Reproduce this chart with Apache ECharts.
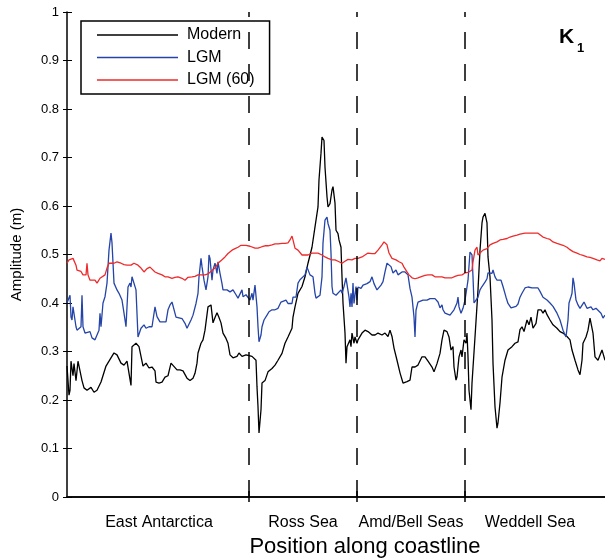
<!DOCTYPE html>
<html>
<head>
<meta charset="utf-8">
<script src="https://cdn.jsdelivr.net/npm/echarts@6/dist/echarts.min.js"></script>
<style>html,body{margin:0;padding:0;background:#fff;}#c{width:605px;height:558px;}</style>
</head>
<body>
<div id="c"></div>
<script>
// Position along coastline (arbitrary units, 0..538) and amplitude (m)
const seriesNames = ['Modern', 'LGM', 'LGM (60)'];
const regionNames = ['East Antarctica', 'Ross Sea', 'Amd/Bell Seas', 'Weddell Sea'];
const regionLabelPos = [92, 236, 344, 463];
const regionBounds = [182, 290, 398];
const xMax = 538;

const modern = [[0,.27],[2,.21],[3,.22],[4,.28],[6,.25],[7,.275],[9,.24],[11,.28],[13,.26],[15,.24],[17,.225],[20,.22],[24,.226],[27,.216],[30,.22],[34,.237],[35,.24],[39,.27],[42,.28],[47,.297],[50,.293],[54,.276],[57,.272],[60,.28],[62,.276],[64,.23],[65,.31],[69,.317],[72,.31],[74,.31],[76,.27],[79,.276],[82,.266],[85,.268],[88,.26],[89,.237],[92,.235],[95,.237],[98,.247],[101,.25],[104,.276],[106,.28],[110,.262],[113,.262],[116,.26],[120,.245],[123,.24],[126,.245],[128,.255],[130,.276],[131,.297],[134,.317],[136,.324],[138,.344],[141,.392],[144,.396],[145,.392],[146,.359],[148,.37],[150,.38],[152,.37],[154,.359],[156,.338],[159,.327],[161,.317],[163,.293],[166,.287],[170,.29],[172,.297],[175,.29],[179,.293],[181,.29],[185,.29],[187,.289],[189,.282],[190,.227],[191,.186],[192,.132],[194,.18],[195,.235],[198,.24],[201,.258],[205,.265],[208,.272],[211,.282],[215,.296],[218,.317],[221,.33],[225,.348],[226,.371],[228,.392],[231,.42],[235,.434],[238,.454],[241,.482],[245,.515],[248,.557],[251,.598],[252,.654],[254,.709],[255,.742],[257,.735],[258,.68],[260,.619],[261,.598],[263,.605],[265,.633],[266,.64],[268,.606],[269,.55],[271,.543],[272,.53],[274,.515],[275,.454],[276,.4],[278,.338],[279,.276],[280,.31],[281,.31],[283,.324],[284,.31],[285,.338],[287,.317],[288,.33],[290,.317],[291,.324],[295,.338],[298,.344],[301,.341],[305,.334],[308,.334],[311,.338],[315,.334],[318,.338],[321,.331],[323,.344],[325,.331],[327,.307],[330,.282],[333,.256],[336,.235],[340,.238],[343,.241],[345,.268],[348,.268],[351,.272],[355,.289],[358,.289],[361,.28],[365,.268],[367,.258],[370,.275],[371,.278],[373,.296],[375,.324],[377,.344],[380,.341],[382,.33],[384,.303],[386,.31],[387,.268],[389,.241],[390,.248],[392,.289],[394,.303],[395,.289],[397,.324],[399,.317],[400,.338],[401,.289],[402,.22],[404,.18],[405,.235],[408,.33],[411,.427],[413,.509],[415,.565],[416,.577],[418,.585],[420,.565],[421,.495],[423,.454],[425,.365],[426,.276],[428,.186],[430,.142],[431,.153],[433,.194],[435,.247],[438,.282],[441,.303],[445,.31],[448,.317],[451,.32],[453,.345],[455,.351],[457,.341],[460,.365],[462,.355],[464,.371],[466,.348],[469,.358],[471,.386],[474,.386],[476,.379],[478,.386],[480,.376],[483,.365],[486,.355],[490,.348],[493,.341],[496,.338],[500,.331],[503,.324],[505,.303],[508,.282],[511,.262],[513,.252],[515,.282],[516,.317],[519,.33],[521,.344],[523,.369],[525,.372],[526,.338],[528,.289],[531,.282],[533,.286],[535,.303],[536,.296],[538,.282]];

const lgm = [[0,.40],[3,.416],[4,.371],[5,.365],[6,.392],[8,.395],[9,.351],[10,.344],[12,.348],[14,.351],[15,.416],[16,.351],[18,.338],[20,.334],[23,.341],[25,.328],[28,.324],[30,.334],[32,.344],[33,.379],[34,.351],[36,.4],[38,.413],[40,.441],[42,.509],[44,.544],[45,.524],[47,.441],[50,.427],[52,.42],[55,.406],[57,.379],[59,.351],[61,.433],[63,.441],[64,.433],[65,.454],[67,.458],[69,.427],[71,.33],[74,.348],[77,.355],[79,.348],[82,.351],[85,.351],[88,.392],[90,.372],[93,.361],[96,.361],[99,.361],[101,.386],[103,.396],[105,.402],[107,.402],[109,.371],[111,.371],[115,.368],[118,.358],[120,.348],[122,.348],[124,.365],[126,.375],[129,.399],[131,.42],[132,.454],[134,.492],[135,.475],[137,.447],[139,.427],[141,.454],[142,.499],[143,.492],[145,.447],[146,.468],[148,.482],[150,.461],[151,.485],[153,.461],[155,.44],[156,.427],[160,.427],[163,.423],[166,.427],[169,.417],[171,.41],[173,.413],[175,.427],[176,.413],[179,.417],[181,.417],[183,.406],[185,.42],[186,.406],[188,.437],[189,.441],[190,.392],[191,.351],[192,.32],[194,.334],[195,.351],[197,.365],[200,.375],[202,.382],[205,.386],[208,.386],[211,.389],[214,.402],[216,.402],[219,.406],[221,.399],[223,.402],[225,.399],[226,.412],[229,.412],[231,.441],[233,.448],[235,.452],[238,.458],[240,.474],[241,.474],[243,.458],[245,.458],[246,.454],[248,.42],[249,.41],[251,.413],[253,.416],[255,.454],[256,.524],[258,.571],[260,.577],[261,.564],[263,.55],[264,.503],[265,.434],[266,.42],[269,.416],[271,.42],[274,.427],[275,.42],[277,.434],[279,.452],[281,.455],[282,.412],[283,.392],[284,.42],[285,.392],[286,.441],[287,.399],[289,.434],[290,.406],[291,.433],[294,.43],[296,.437],[300,.44],[303,.444],[305,.454],[307,.44],[310,.427],[311,.423],[314,.437],[316,.444],[318,.464],[320,.482],[322,.478],[324,.475],[326,.462],[329,.468],[331,.458],[335,.464],[338,.464],[341,.458],[343,.43],[345,.412],[347,.371],[348,.33],[349,.385],[351,.402],[353,.406],[356,.406],[360,.406],[363,.409],[365,.412],[368,.409],[371,.402],[373,.39],[375,.396],[376,.386],[378,.379],[380,.375],[383,.375],[385,.372],[387,.386],[390,.4],[391,.412],[392,.392],[394,.379],[396,.389],[398,.406],[400,.433],[401,.447],[403,.505],[405,.499],[406,.454],[407,.4],[409,.406],[411,.412],[413,.427],[415,.434],[416,.434],[418,.443],[420,.45],[421,.462],[423,.464],[425,.461],[426,.468],[428,.454],[430,.447],[431,.451],[434,.447],[436,.434],[439,.412],[441,.399],[444,.39],[446,.386],[449,.393],[451,.398],[453,.412],[455,.42],[458,.431],[461,.433],[465,.431],[468,.431],[471,.431],[473,.424],[476,.412],[480,.406],[483,.4],[486,.393],[490,.379],[493,.365],[496,.344],[499,.33],[501,.365],[502,.4],[504,.413],[505,.42],[506,.452],[507,.441],[509,.406],[511,.396],[513,.389],[515,.392],[517,.402],[520,.389],[521,.386],[524,.392],[526,.386],[529,.389],[531,.386],[534,.379],[536,.369],[538,.375]];

const lgm60 = [[0,.482],[2,.489],[4,.486],[6,.492],[8,.496],[9,.478],[10,.468],[12,.465],[14,.465],[16,.458],[19,.458],[20,.482],[21,.458],[23,.447],[25,.451],[28,.447],[30,.441],[33,.451],[35,.454],[38,.458],[40,.472],[42,.482],[44,.485],[47,.482],[50,.485],[54,.482],[57,.479],[60,.478],[64,.478],[67,.482],[69,.485],[71,.478],[74,.472],[77,.464],[80,.471],[83,.474],[85,.474],[88,.464],[91,.461],[95,.458],[98,.454],[101,.454],[105,.451],[108,.453],[111,.454],[115,.451],[118,.447],[121,.453],[125,.454],[128,.455],[131,.458],[135,.458],[138,.458],[141,.46],[145,.467],[148,.472],[151,.482],[155,.489],[158,.495],[161,.502],[165,.509],[168,.512],[171,.515],[174,.519],[176,.515],[179,.519],[181,.516],[183,.517],[185,.518],[188,.513],[191,.513],[195,.516],[198,.518],[201,.518],[205,.52],[208,.522],[210,.524],[211,.522],[215,.523],[218,.523],[221,.524],[223,.53],[225,.538],[226,.53],[228,.513],[231,.509],[233,.506],[235,.499],[238,.499],[241,.499],[245,.503],[248,.503],[251,.503],[255,.499],[258,.495],[261,.492],[265,.489],[268,.489],[271,.486],[275,.482],[278,.486],[281,.49],[285,.489],[288,.492],[291,.492],[295,.495],[298,.499],[301,.503],[305,.502],[308,.502],[311,.509],[315,.52],[317,.526],[320,.52],[322,.503],[325,.492],[329,.489],[332,.485],[335,.482],[337,.474],[340,.464],[342,.458],[345,.452],[348,.45],[351,.452],[355,.455],[358,.457],[361,.458],[365,.458],[368,.454],[371,.454],[375,.454],[378,.452],[381,.452],[385,.452],[388,.455],[391,.457],[395,.458],[398,.462],[401,.463],[403,.465],[405,.468],[406,.485],[408,.509],[410,.515],[411,.499],[413,.502],[416,.509],[420,.512],[423,.52],[426,.523],[430,.526],[433,.53],[436,.531],[440,.533],[443,.536],[446,.538],[450,.54],[453,.542],[458,.544],[465,.544],[471,.544],[473,.542],[476,.536],[480,.533],[483,.531],[486,.526],[490,.523],[493,.521],[496,.519],[500,.515],[503,.51],[506,.506],[510,.503],[513,.5],[516,.498],[520,.495],[523,.494],[526,.492],[530,.489],[533,.487],[535,.492],[538,.49]];

const colors = ['#000000', '#2444a8', '#ee2a2a'];
const FONT = 'Liberation Sans';

const chart = echarts.init(document.getElementById('c'), null, {renderer: 'canvas'});
const mkSeries = (name, data, color, extra) => Object.assign({
  name, type: 'line', data, showSymbol: false, symbol: 'none',
  lineStyle: {color, width: 1.3}, itemStyle: {color},
  xAxisIndex: 0, yAxisIndex: 0, animation: false, z: 3
}, extra || {});

chart.setOption({
  animation: false,
  backgroundColor: '#fff',
  grid: {left: 67, top: 12, width: 538, height: 485, containLabel: false, outerBoundsMode: 'none'},
  xAxis: [{
    type: 'value', min: 0, max: xMax, position: 'bottom',
    name: 'Position along coastline', nameLocation: 'middle', nameGap: 38,
    nameTextStyle: {fontSize: 22, color: '#000', fontFamily: FONT, padding: [0, 0, 0, 58]},
    axisLine: {show: true, lineStyle: {color: '#000', width: 1.5}},
    axisTick: {show: true, inside: true, length: 6, customValues: regionBounds, lineStyle: {color: '#000', width: 1.5}},
    axisLabel: {show: true, customValues: regionLabelPos, margin: 18, fontSize: 16, color: '#000', fontFamily: FONT,
      formatter: v => regionNames[regionLabelPos.indexOf(v)] || ''},
    splitLine: {show: false}
  }, {
    type: 'value', min: 0, max: xMax, position: 'top',
    axisLine: {show: true, lineStyle: {color: '#000', width: 1.5}},
    axisTick: {show: true, inside: true, length: 5, customValues: regionBounds, lineStyle: {color: '#000', width: 1.5}},
    axisLabel: {show: false}, splitLine: {show: false}
  }],
  yAxis: [{
    type: 'value', min: 0, max: 1, interval: 0.1, position: 'left',
    name: 'Amplitude (m)', nameLocation: 'middle', nameGap: 43,
    nameTextStyle: {fontSize: 15, color: '#000', fontFamily: FONT},
    axisLine: {show: true, lineStyle: {color: '#000', width: 1.5}},
    axisTick: {show: true, inside: true, length: 5, lineStyle: {color: '#000', width: 1}},
    axisLabel: {margin: 8, fontSize: 13, color: '#000', fontFamily: FONT},
    splitLine: {show: false}
  }, {
    type: 'value', min: 0, max: 1, interval: 0.1, position: 'right',
    axisLine: {show: false},
    axisTick: {show: true, inside: true, length: 4, lineStyle: {color: '#000', width: 1}},
    axisLabel: {show: false}, splitLine: {show: false}
  }],
  legend: {
    show: true, data: seriesNames, orient: 'vertical', left: 81, top: 21,
    icon: 'rect', itemWidth: 81, itemHeight: 1.5, itemGap: 6.5,
    padding: [6, 15, 6, 16], borderColor: '#000', borderWidth: 1.5, backgroundColor: '#fff',
    textStyle: {fontSize: 16, color: '#000', fontFamily: FONT, padding: [0, 0, 0, 4]},
    selectedMode: false
  },
  graphic: [
    {type: 'text', left: 559, top: 27, z: 10, style: {text: 'K', font: 'bold 21px "Liberation Sans"', fill: '#000'}},
    {type: 'text', left: 577, top: 42, z: 10, style: {text: '1', font: 'bold 13px "Liberation Sans"', fill: '#000'}}
  ],
  series: [
    mkSeries(seriesNames[0], modern, colors[0], {
      markLine: {
        silent: true, symbol: ['none', 'none'], label: {show: false}, animation: false,
        lineStyle: {color: '#000', type: [17, 15], width: 1.5},
        data: regionBounds.map(v => ({xAxis: v}))
      }
    }),
    mkSeries(seriesNames[1], lgm, colors[1]),
    mkSeries(seriesNames[2], lgm60, colors[2])
  ]
});
</script>
</body>
</html>
